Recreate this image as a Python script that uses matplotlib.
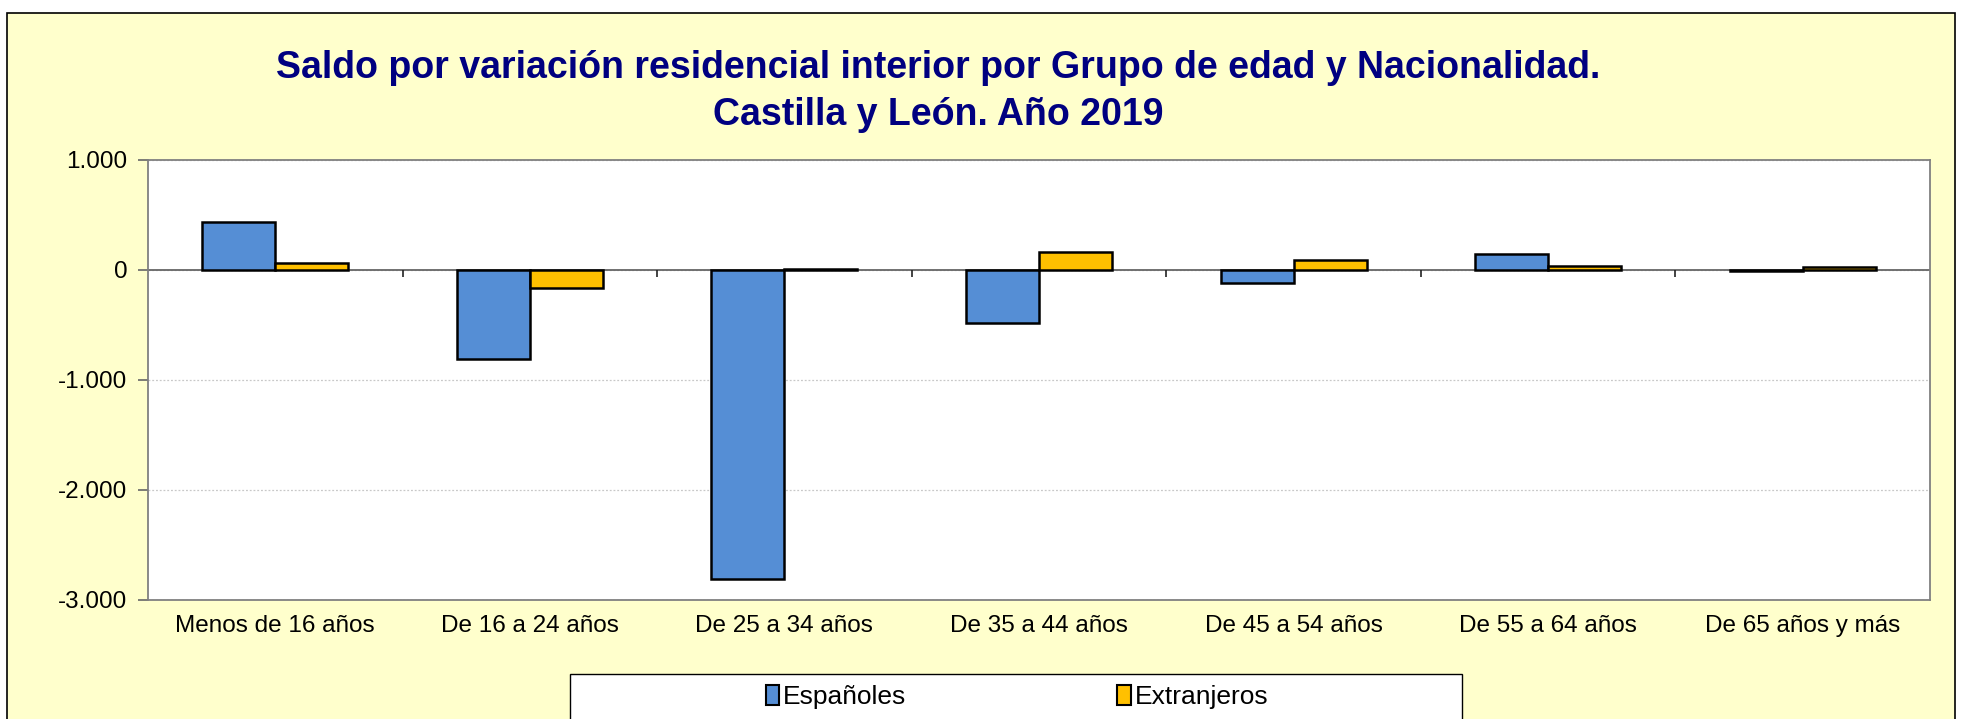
import numpy as np
import matplotlib
matplotlib.use("Agg")
import matplotlib.pyplot as plt
from matplotlib.patches import Rectangle
from matplotlib.ticker import FuncFormatter

plt.rcParams['font.family'] = ['Liberation Sans', 'DejaVu Sans']

categories = ["Menos de 16 años", "De 16 a 24 años", "De 25 a 34 años", "De 35 a 44 años",
              "De 45 a 54 años", "De 55 a 64 años", "De 65 años y más"]
espanoles = [439, -807, -2805, -485, -121, 143, -12]
extranjeros = [61, -167, 8, 161, 91, 36, 30]
series_names = ["Españoles", "Extranjeros"]
series_colors = ["#558ED5", "#FFC000"]

W, H = 1961, 719
fig = plt.figure(figsize=(W / 100, H / 100), dpi=100)
fig.patch.set_facecolor("white")

# yellow chart frame
fig.patches.append(Rectangle((7 / W, -0.05), (1955 - 7) / W, 1.05 - 13 / H,
                             transform=fig.transFigure, facecolor="#FFFFCC",
                             edgecolor="black", linewidth=1.2, zorder=-2))

ax = fig.add_axes([148 / W, 1 - 600 / H, (1930 - 148) / W, 440 / H])
ax.set_zorder(1)
ax.set_facecolor("white")

x = np.arange(len(categories))
bw = 0.287
for vals, off, name, col in zip([espanoles, extranjeros], [-bw / 2, bw / 2], series_names, series_colors):
    ax.bar(x + off, vals, width=bw, color=col, edgecolor="black", linewidth=1.8, label=name, zorder=3)

ax.set_xlim(-0.5, len(categories) - 0.5)
ax.set_ylim(-3000, 1000)
ax.set_yticks([-3000, -2000, -1000, 0, 1000])
ax.yaxis.set_major_formatter(FuncFormatter(lambda v, p: f"{int(v):,}".replace(",", ".")))
ax.grid(axis="y", color="#C8C8C8", linestyle=(0, (1.5, 1.5)), linewidth=0.9, zorder=0)

ax.axhline(0, color="#666666", linewidth=1.3, zorder=2)
bounds = np.arange(len(categories) - 1) + 0.5
ax.vlines(bounds, -64, 0, color="#222222", linewidth=1.2, zorder=2)

ax.set_xticks(x)
ax.set_xticklabels(categories)
ax.tick_params(axis="x", length=0, pad=11, labelsize=17.5)
ax.tick_params(axis="y", length=7, width=1.2, color="#666666", direction="out", labelsize=17.5, pad=8)
for s in ax.spines.values():
    s.set_color("#808080")
    s.set_linewidth(1.3)

fig.text(938 / W, 1 - 78 / H,
         "Saldo por variación residencial interior por Grupo de edad y Nacionalidad.",
         ha="center", va="baseline", fontsize=27, fontweight="bold", color="#000080")
fig.text(938 / W, 1 - 125 / H, "Castilla y León. Año 2019",
         ha="center", va="baseline", fontsize=27, fontweight="bold", color="#000080")

# legend box
fig.patches.append(Rectangle((570 / W, -0.01), (1462 - 570) / W, 0.01 + (719 - 674) / H,
                             transform=fig.transFigure, facecolor="white",
                             edgecolor="black", linewidth=1.0, zorder=-1))
leg = fig.legend(loc="center", bbox_to_anchor=(1017 / W, 1 - 697 / H), ncol=2, frameon=False,
                 fontsize=19, handlelength=0.5, handleheight=0.8, handletextpad=0.15,
                 columnspacing=8.0)
leg.set_zorder(2)
for h in leg.legend_handles:
    h.set_linewidth(1.5)

fig.savefig("out.png", dpi=100)
